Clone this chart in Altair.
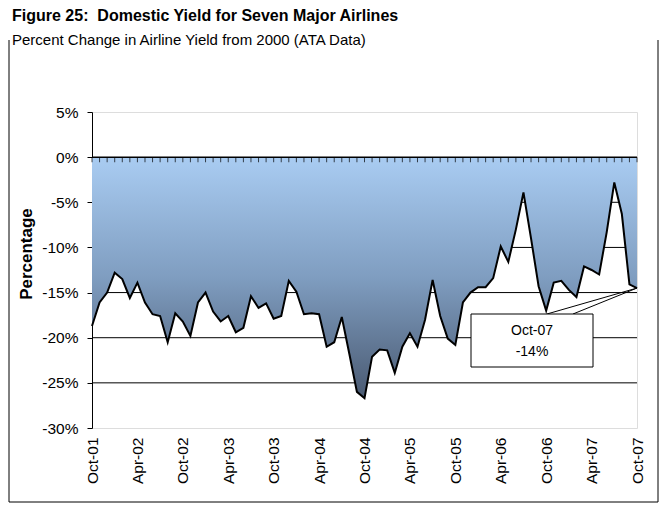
import altair as alt
import pandas as pd

# ---------------- data ----------------
months = list(pd.date_range("2001-10-01", "2007-10-01", freq="MS").strftime("%b-%y"))

yield_change = [
    -18.7, -16.1, -15.0, -12.8, -13.5, -15.6, -13.9, -16.1, -17.4, -17.6, -20.5, -17.3,
    -18.2, -19.8, -16.1, -15.0, -17.1, -18.2, -17.6, -19.4, -18.9, -15.4, -16.7, -16.2,
    -17.9, -17.6, -13.7, -14.9, -17.4, -17.3, -17.4, -21.0, -20.5, -17.7, -21.8, -26.0,
    -26.7, -22.1, -21.3, -21.4, -23.9, -21.0, -19.5, -21.0, -18.0, -13.6, -17.6, -20.1,
    -20.8, -16.1, -15.0, -14.4, -14.4, -13.4, -9.9, -11.6, -8.0, -3.9, -9.0, -14.3,
    -17.0, -13.9, -13.7, -14.7, -15.5, -12.1, -12.5, -13.0, -8.3, -2.8, -6.3, -14.1,
    -14.5,
]

x_tick_labels = ["Oct-01", "Apr-02", "Oct-02", "Apr-03", "Oct-03", "Apr-04", "Oct-04",
                 "Apr-05", "Oct-05", "Apr-06", "Oct-06", "Apr-07", "Oct-07"]
y_ticks = [5, 0, -5, -10, -15, -20, -25, -30]
grid_values = [-5, -10, -15, -20, -25]

title_text = "Figure 25:\u00a0 Domestic Yield for Seven Major Airlines"
subtitle_text = "Percent Change in Airline Yield from 2000 (ATA Data)"
y_title = "Percentage"
callout_lines = ["Oct-07", "-14%"]

# ---------------- chart ----------------
FONT = "Liberation Sans"
W, H = 545, 316

df = pd.DataFrame({"month": months, "pct": yield_change})
last = df.tail(1)

xs = alt.Scale(type="point", domain=months, padding=0)
ys = alt.Scale(domain=[-30, 5], nice=False, zero=False)

x_axis = alt.Axis(values=x_tick_labels, labelAngle=270, labelPadding=9, ticks=False,
                  domain=False, title=None, labelFontSize=15.5, labelColor="black",
                  labelFont=FONT, labelOverlap=False, grid=False)
y_axis = alt.Axis(values=y_ticks, labelExpr="datum.value + '%'", grid=False, title=None,
                  tickSize=5, tickColor="black", domainColor="black", labelFontSize=15.5,
                  labelColor="black", labelFont=FONT, labelPadding=9)

grad = alt.Gradient(
    gradient="linear",
    stops=[alt.GradientStop(color="#a9ccf2", offset=0),
           alt.GradientStop(color="#7f9dc0", offset=0.5),
           alt.GradientStop(color="#4a5a72", offset=1)],
    x1=0, x2=0, y1=0, y2=1,
)

# gridlines (first layer, carries the y axis)
grid = alt.Chart(pd.DataFrame({"pct": grid_values})).mark_rule(
    color="black", strokeWidth=1
).encode(
    y=alt.Y("pct:Q", scale=ys, axis=y_axis),
    x=alt.value(0), x2=alt.value(W),
)

area = alt.Chart(df).mark_area(color=grad).encode(
    x=alt.X("month:O", scale=xs, axis=x_axis),
    y=alt.Y("pct:Q", scale=ys),
    y2=alt.datum(0),
)

line = alt.Chart(df).mark_line(color="black", strokeWidth=2).encode(
    x=alt.X("month:O", scale=xs),
    y=alt.Y("pct:Q", scale=ys),
)

zero = alt.Chart(pd.DataFrame({"pct": [0]})).mark_rule(color="black", strokeWidth=1.5).encode(
    y=alt.Y("pct:Q", scale=ys),
    x=alt.value(0), x2=alt.value(W),
)

month_ticks = alt.Chart(df).mark_tick(orient="vertical", size=5, thickness=1, color="black",
                                      yOffset=2.5).encode(
    x=alt.X("month:O", scale=xs),
    y=alt.datum(0),
)

pointer_a = alt.Chart(last).mark_rule(color="black", strokeWidth=1).encode(
    x=alt.X("month:O", scale=xs),
    y=alt.Y("pct:Q", scale=ys),
    x2=alt.value(455), y2=alt.value(202),
)
pointer_b = alt.Chart(last).mark_rule(color="black", strokeWidth=1).encode(
    x=alt.X("month:O", scale=xs),
    y=alt.Y("pct:Q", scale=ys),
    x2=alt.value(481), y2=alt.value(202),
)

one = pd.DataFrame({"a": [0]})
box = alt.Chart(one).mark_rect(fill="white", stroke="black", strokeWidth=1).encode(
    x=alt.value(379), x2=alt.value(501), y=alt.value(202), y2=alt.value(255)
)
box_t1 = alt.Chart(pd.DataFrame({"t": [callout_lines[0]]})).mark_text(
    font=FONT, fontSize=14, color="black", align="center", baseline="middle"
).encode(x=alt.value(440), y=alt.value(219), text="t:N")
box_t2 = alt.Chart(pd.DataFrame({"t": [callout_lines[1]]})).mark_text(
    font=FONT, fontSize=14, color="black", align="center", baseline="middle"
).encode(x=alt.value(440), y=alt.value(240), text="t:N")

title = alt.Chart(pd.DataFrame({"t": [title_text]})).mark_text(
    font=FONT, fontSize=16, fontWeight="bold", color="black", align="left", baseline="alphabetic"
).encode(x=alt.value(-80), y=alt.value(-91), text="t:N")
subtitle = alt.Chart(pd.DataFrame({"t": [subtitle_text]})).mark_text(
    font=FONT, fontSize=15, color="black", align="left", baseline="alphabetic"
).encode(x=alt.value(-80), y=alt.value(-67), text="t:N")
ytitle = alt.Chart(pd.DataFrame({"t": [y_title]})).mark_text(
    font=FONT, fontSize=17, fontWeight="bold", color="black", align="center",
    baseline="middle", angle=270
).encode(x=alt.value(-65), y=alt.value(142), text="t:N")

border_l = alt.Chart(one).mark_rule(color="black", strokeWidth=1).encode(
    x=alt.value(-83), y=alt.value(-72), y2=alt.value(390))
border_r = alt.Chart(one).mark_rule(color="black", strokeWidth=1).encode(
    x=alt.value(566), y=alt.value(-72), y2=alt.value(390))
border_b = alt.Chart(one).mark_rule(color="black", strokeWidth=1).encode(
    x=alt.value(-83), x2=alt.value(566), y=alt.value(390))

chart = alt.layer(
    grid, area, line, zero, month_ticks, pointer_a, pointer_b, box, box_t1, box_t2,
    title, subtitle, ytitle, border_l, border_r, border_b,
).properties(
    width=W, height=H,
    autosize=alt.AutoSizeParams(type="none"),
    padding={"left": 84, "top": 104, "right": 22, "bottom": 76},
).configure_view(
    stroke="#8c8c8c", strokeWidth=1
).configure(font=FONT)

chart.save("out.html", embed_options={"renderer": "svg", "actions": False})
